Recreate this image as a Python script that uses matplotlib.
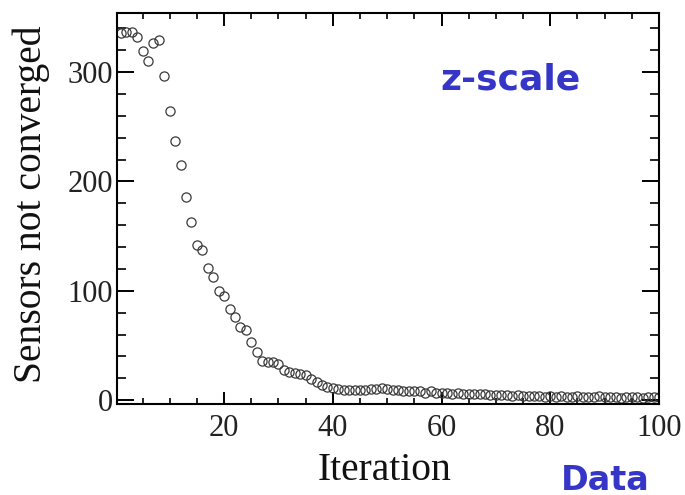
import numpy as np
import matplotlib
matplotlib.use("Agg")
import matplotlib.pyplot as plt
from matplotlib.ticker import MultipleLocator

# Number of sensors whose alignment has not yet converged, per iteration
iterations = list(range(1, 101))
not_converged = [
    336, 337, 337, 332, 319, 310, 327, 329, 296, 264,
    237, 215, 186, 163, 142, 137, 121, 113, 100, 95,
    83, 76, 67, 64, 53, 44, 36, 35, 35, 33,
    28, 26, 25, 24, 23, 19, 17, 14, 12, 11,
    10, 9, 9, 9, 9, 9, 10, 10, 11, 10,
    9, 9, 8, 8, 8, 8, 7, 8, 7, 7,
    7, 6, 7, 6, 6, 6, 6, 6, 5, 5,
    5, 5, 4, 5, 4, 4, 4, 4, 3, 4,
    3, 4, 3, 3, 4, 3, 3, 3, 4, 3,
    3, 3, 2, 3, 3, 3, 2, 3, 3, 3,
]

x_ticks = [20, 40, 60, 80, 100]
y_ticks = [0, 100, 200, 300]

serif = ["Liberation Serif", "DejaVu Serif"]
blue = "#3535c8"

fig = plt.figure(figsize=(6.85, 4.95), dpi=100)
ax = fig.add_axes([117 / 685, 91 / 495, 542 / 685, 391 / 495])

ax.plot(iterations, not_converged, linestyle="none", marker="o",
        markersize=6.6, markerfacecolor="none", markeredgecolor="#3a3a3a",
        markeredgewidth=0.9)

ax.set_xlim(0.3, 100)
ax.set_ylim(-3.5, 354)
ax.set_xticks(x_ticks)
ax.set_yticks(y_ticks)
ax.xaxis.set_minor_locator(MultipleLocator(5))
ax.yaxis.set_minor_locator(MultipleLocator(20))

for s in ax.spines.values():
    s.set_linewidth(1.5)
    s.set_color("black")

ax.tick_params(axis="x", which="major", direction="in", length=9, width=1.4,
               top=True, pad=7)
ax.tick_params(axis="x", which="minor", direction="in", length=4.5, width=1.2,
               top=True)
ax.tick_params(axis="y", which="major", direction="in", length=12, width=1.4,
               right=True, pad=3)
ax.tick_params(axis="y", which="minor", direction="in", length=6.5, width=1.2,
               right=True)

for lab in ax.get_xticklabels() + ax.get_yticklabels():
    lab.set_fontfamily(serif)
    lab.set_fontsize(22)
    lab.set_color("#222222")

fig.text(385 / 685, 1 - 480 / 495, "Iteration", ha="center", va="baseline",
         fontsize=28.5, family=serif, color="#111111")
fig.text(31 / 685, 1 - 204 / 495, "Sensors not converged", ha="center",
         va="center", rotation=90, fontsize=28.5, family=serif,
         color="#111111")

fig.text(510 / 685, 1 - 80 / 495, "z-scale", ha="center", va="center",
         fontsize=26, fontweight="bold", color=blue, family="DejaVu Sans")
fig.text(605 / 685, 1 - 480 / 495, "Data", ha="center", va="center",
         fontsize=24, fontweight="bold", color=blue, family="DejaVu Sans")

fig.savefig("out.png", dpi=100)
